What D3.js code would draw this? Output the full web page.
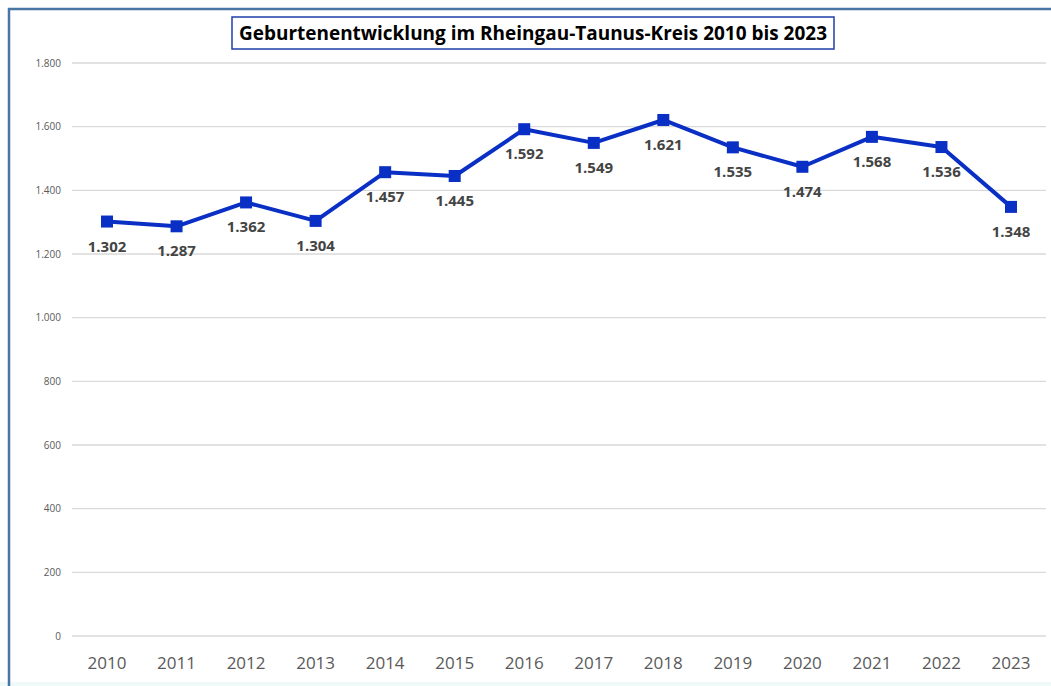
<!DOCTYPE html>
<html>
<head>
<meta charset="utf-8">
<script src="https://cdn.jsdelivr.net/npm/d3@7"></script>
<style>
  body { margin: 0; background: #fff; }
  #chart { width: 1051px; height: 686px; }
</style>
</head>
<body>
<div id="chart"></div>
<script>
// chart data
var years = ["2010","2011","2012","2013","2014","2015","2016","2017","2018","2019","2020","2021","2022","2023"];
var births = [1302, 1287, 1362, 1304, 1457, 1445, 1592, 1549, 1621, 1535, 1474, 1568, 1536, 1348];
var yTicks = [0, 200, 400, 600, 800, 1000, 1200, 1400, 1600, 1800];
var title = "Geburtenentwicklung im Rheingau-Taunus-Kreis 2010 bis 2023";

function init(){
  var width = 1051, height = 686;
  var svg = d3.select("#chart").append("svg")
    .attr("width", width)
    .attr("height", height);

  // frame
  svg.append("rect")
    .attr("x", 0).attr("y", 682).attr("width", width).attr("height", 4)
    .style("fill", "#eef9f8");
  svg.append("path")
    .attr("d", "M9,686 V9 H1051")
    .style("fill", "none")
    .style("stroke", "#4a76a6")
    .style("stroke-width", 2.5);

  var fmt = function(v){ return d3.format(",")(v).replace(/,/g, "."); };

  var x = d3.scalePoint()
    .domain(years)
    .range([107, 1011]);

  var y = d3.scaleLinear()
    .domain([0, 1800])
    .range([636, 63]);

  // gridlines
  svg.append("g")
    .selectAll("line")
    .data(yTicks)
    .enter()
    .append("line")
      .attr("x1", 72).attr("x2", 1046)
      .attr("y1", function(d){ return y(d); })
      .attr("y2", function(d){ return y(d); })
      .style("stroke", "#d9d9d9")
      .style("stroke-width", 1.3);

  // y axis labels
  svg.append("g")
    .selectAll("text")
    .data(yTicks)
    .enter()
    .append("text")
      .attr("x", 61)
      .attr("y", function(d){ return y(d); })
      .attr("dy", "0.35em")
      .attr("text-anchor", "end")
      .style("font-family", "Open Sans, sans-serif")
      .style("font-size", "10px")
      .style("fill", "#595959")
      .text(function(d){ return fmt(d); });

  // x axis labels
  svg.append("g")
    .selectAll("text")
    .data(years)
    .enter()
    .append("text")
      .attr("x", function(d){ return x(d); })
      .attr("y", 669)
      .attr("text-anchor", "middle")
      .style("font-family", "Open Sans, sans-serif")
      .style("font-size", "17px")
      .style("fill", "#595959")
      .text(function(d){ return d; });

  var data = years.map(function(yr, i){ return { year: yr, value: births[i] }; });

  // line
  svg.append("path")
    .datum(data)
    .attr("d", d3.line()
      .x(function(d){ return x(d.year); })
      .y(function(d){ return y(d.value); }))
    .style("fill", "none")
    .style("stroke", "#0a2fc4")
    .style("stroke-width", 4)
    .style("stroke-linejoin", "round");

  // markers
  svg.append("g")
    .selectAll("rect")
    .data(data)
    .enter()
    .append("rect")
      .attr("x", function(d){ return x(d.year) - 6; })
      .attr("y", function(d){ return y(d.value) - 6; })
      .attr("width", 12)
      .attr("height", 12)
      .style("fill", "#0a2fc4");

  // value labels
  svg.append("g")
    .selectAll("text")
    .data(data)
    .enter()
    .append("text")
      .attr("x", function(d){ return x(d.year); })
      .attr("y", function(d){ return y(d.value) + 30; })
      .attr("text-anchor", "middle")
      .style("font-family", "Open Sans, sans-serif")
      .style("font-weight", "bold")
      .style("font-size", "15px")
      .style("fill", "#444")
      .text(function(d){ return fmt(d.value); });

  // title box
  svg.append("rect")
    .attr("x", 232).attr("y", 17).attr("width", 602).attr("height", 32)
    .style("fill", "#fff")
    .style("stroke", "#1f3fa8")
    .style("stroke-width", 1.5);
  svg.append("text")
    .attr("x", 533).attr("y", 40)
    .attr("text-anchor", "middle")
    .attr("textLength", 588)
    .attr("lengthAdjust", "spacingAndGlyphs")
    .style("font-family", "Open Sans, sans-serif")
    .style("font-weight", "bold")
    .style("font-size", "19px")
    .style("fill", "#000")
    .text(title);
}
window.onload = init;
</script>
</body>
</html>
